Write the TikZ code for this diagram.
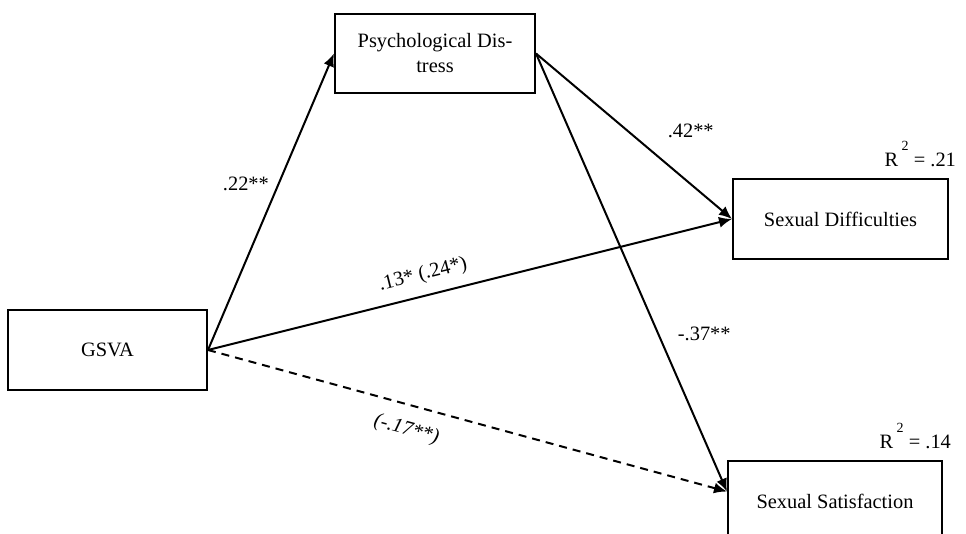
\documentclass[tikz,border=0pt]{standalone}
\usepackage{fontspec}
\setmainfont{Liberation Serif}
\usetikzlibrary{arrows.meta}

\begin{document}
\begin{tikzpicture}[x=0.5pt,y=-0.5pt,
        box/.style={draw,line width=1pt,inner sep=0pt,align=center,font=\fontsize{10.2}{12.5}\selectfont},
        path/.style={line width=1pt,-{Latex[length=6.5pt,width=5.5pt]}},
        lbl/.style={font=\fontsize{10.2}{12.5}\selectfont}]
        %%% FRAME %%%
        \useasboundingbox (0,0) rectangle (966,534);

        %%% VARIABLES %%%
        \node[box,minimum width=99.5pt,minimum height=40pt] (gsva) at (107.5,350) {GSVA};
        \node[box,minimum width=100pt,minimum height=39.5pt] (pd) at (435,53.5) {Psychological Dis-\\tress};
        \node[box,minimum width=107.5pt,minimum height=40pt] (sd) at (840.5,219) {Sexual Difficulties};
        \node[box,minimum width=107pt,minimum height=40pt] (ss) at (835,501) {Sexual Satisfaction};

        %%% R SQUARED %%%
        \node[lbl,anchor=base east] (rsd) at (963,167) {R\,\raisebox{8pt}{\fontsize{7}{8}\selectfont 2}\ = .21};
        \node[lbl,anchor=base east] (rss) at (958,449) {R\,\raisebox{8pt}{\fontsize{7}{8}\selectfont 2}\ = .14};

        %%% PATHS %%%
        \draw[path] (gsva.east)--node[lbl,pos=0.56,left=1pt]{.22**}(pd.west);
        \draw[path] (pd.east)--node[lbl,pos=0.47,right=16pt]{.42**}(sd.west);
        \draw[path] (gsva.east)--node[lbl,pos=0.42,sloped,above=2pt]{.13* (.24*)}(sd.west);
        \draw[path] (pd.east)--node[lbl,pos=0.64,right=6pt]{-.37**}(ss.175);
        \draw[path,dash pattern=on 4pt off 3pt] (gsva.east)--node[lbl,pos=0.395,sloped,below=4pt]{\textit{(-.17**)}}(ss.175);
\end{tikzpicture}
\end{document}
